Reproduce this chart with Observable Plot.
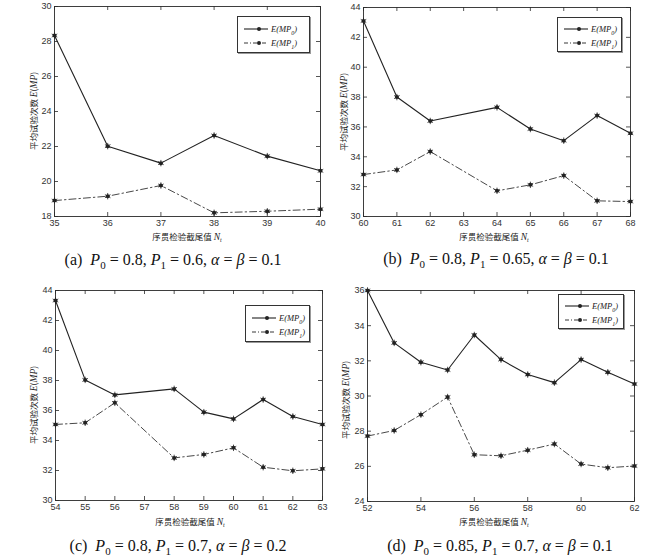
<!DOCTYPE html>
<html>
<head>
<meta charset="utf-8">
<script src="https://cdn.jsdelivr.net/npm/d3@7"></script>
<script src="https://cdn.jsdelivr.net/npm/@observablehq/plot@0.6"></script>
<style>
  html, body { margin: 0; padding: 0; background: #fff; }
  #page { position: relative; width: 660px; height: 557px; overflow: hidden; background: #fff; }
  .panel { position: absolute; }
  .ylab, .xlab { position: absolute; font-family: "Noto Sans CJK SC", sans-serif; font-size: 8.5px; color: #222; white-space: nowrap; line-height: 10px; }
  .ylab { transform: translate(-50%, -50%) rotate(-90deg); }
  .xlab { transform: translate(-50%, -50%); }
  .it { font-family: "Liberation Serif", serif; font-style: italic; font-size: 9.5px; }
  .cap { position: absolute; transform: translate(-50%, -50%); font-family: "Liberation Serif", "DejaVu Serif", serif; font-size: 16px; color: #111; white-space: nowrap; }
  .cap i { font-style: italic; }
  .legend { position: absolute; border: 1px solid #333; background: #fff; box-shadow: 1px 1px 0 #999; }
  .legrow { position: absolute; left: 0; right: 0; height: 14px; }
  .legrow svg { position: absolute; left: 4px; top: 0; }
  .legrow span { position: absolute; left: 33px; top: 0; line-height: 14px; font-family: "Liberation Serif", serif; font-style: italic; font-size: 8.5px; color: #222; }
</style>
</head>
<body>
<div id="page"></div>
<script>
// ---------------- data ----------------
const xA = [35, 36, 37, 38, 39, 40];
const a0 = [28.34, 22.02, 21.05, 22.63, 21.45, 20.61];
const a1 = [18.91, 19.16, 19.77, 18.21, 18.30, 18.42];
const xTicksA = [35, 36, 37, 38, 39, 40];
const yTicksA = [18, 20, 22, 24, 26, 28, 30];

const xB = [60, 61, 62, 64, 65, 66, 67, 68];
const b0 = [43.10, 38.00, 36.40, 37.31, 35.86, 35.08, 36.76, 35.57];
const b1 = [32.81, 33.12, 34.35, 31.72, 32.12, 32.74, 31.05, 31.00];
const xTicksB = [60, 61, 62, 63, 64, 65, 66, 67, 68];
const yTicksB = [30, 32, 34, 36, 38, 40, 42, 44];

const xC = [54, 55, 56, 58, 59, 60, 61, 62, 63];
const c0 = [43.33, 38.04, 37.04, 37.44, 35.89, 35.44, 36.73, 35.60, 35.07];
const c1 = [35.07, 35.18, 36.51, 32.84, 33.07, 33.51, 32.22, 31.98, 32.11];
const xTicksC = [54, 55, 56, 57, 58, 59, 60, 61, 62, 63];
const yTicksC = [30, 32, 34, 36, 38, 40, 42, 44];

const xD = [52, 53, 54, 55, 56, 57, 58, 59, 60, 61, 62];
const d0 = [36.00, 33.02, 31.92, 31.48, 33.47, 32.07, 31.22, 30.76, 32.07, 31.35, 30.68];
const d1 = [27.72, 28.04, 28.94, 29.94, 26.66, 26.60, 26.92, 27.27, 26.13, 25.92, 26.02];
const xTicksD = [52, 54, 56, 58, 60, 62];
const yTicksD = [24, 26, 28, 30, 32, 34, 36];

const seriesSubs = ["0", "1"];
const yLabelText = "平均试验次数 ";
const xLabelText = "序贯检验截尾值 ";

// ---------------- layout ----------------
const panels = [
  { left: 0,   top: 0,   x: xA, s0: a0, s1: a1, xt: xTicksA, yt: yTicksA, m: [6, 10, 29, 54], ylab: [33, 111], xlab: [187, 236],
    leg: [237, 16, 71, 35], cap: [173, 260], capText: ["(a)", "0", "0.8", "1", "0.6", "0.1"] },
  { left: 330, top: 0,   x: xB, s0: b0, s1: b1, xt: xTicksB, yt: yTicksB, m: [7, 30, 29, 33], ylab: [343, 112], xlab: [494, 236],
    leg: [557, 17, 63, 33], cap: [496, 259], capText: ["(b)", "0", "0.8", "1", "0.65", "0.1"] },
  { left: 0,   top: 280, x: xC, s0: c0, s1: c1, xt: xTicksC, yt: yTicksC, m: [10, 8, 25, 55], ylab: [33, 405], xlab: [190, 521],
    leg: [245, 305, 63, 35], cap: [178, 546], capText: ["(c)", "0", "0.8", "1", "0.7", "0.2"] },
  { left: 330, top: 280, x: xD, s0: d0, s1: d1, xt: xTicksD, yt: yTicksD, m: [10, 26, 24, 37], ylab: [345, 400], xlab: [494, 521],
    leg: [558, 294, 64, 33], cap: [500, 546], capText: ["(d)", "0", "0.85", "1", "0.7", "0.1"] }
];

const page = document.getElementById("page");
const H = 245;
const dashDot = "7,3,1.5,3";
const ink = "#2a2a2a";

panels.forEach(p => {
  const rows = [];
  p.x.forEach((xv, i) => {
    rows.push({ x: xv, y: p.s0[i], s: 0 });
    rows.push({ x: xv, y: p.s1[i], s: 1 });
  });
  const r0 = rows.filter(d => d.s === 0);
  const r1 = rows.filter(d => d.s === 1);
  const xd = [p.xt[0], p.xt[p.xt.length - 1]];
  const yd = [p.yt[0], p.yt[p.yt.length - 1]];
  const xr = xd[1] - xd[0], yr = yd[1] - yd[0];
  const [mt, mr, mb, ml] = p.m;
  const innerH = H - mt - mb, innerW = 330 - ml - mr;
  const tx = 4 / innerH * yr;
  const ty = 4 / innerW * xr;

  const chart = Plot.plot({
    width: 330,
    height: H,
    marginTop: mt, marginRight: mr, marginBottom: mb, marginLeft: ml,
    style: { fontFamily: "'Liberation Sans', Arial, sans-serif", fontSize: "9px", color: "#333", background: "transparent" },
    x: { domain: xd, label: null },
    y: { domain: yd, label: null },
    marks: [
      Plot.axisX({ ticks: p.xt, tickSize: 0, tickPadding: 3, tickFormat: d => String(d), fill: "#333", label: null }),
      Plot.axisY({ ticks: p.yt, tickSize: 0, tickPadding: 3, tickFormat: d => String(d), fill: "#333", label: null }),
      Plot.ruleX(p.xt, { x: d => d, y1: yd[0], y2: yd[0] + tx, stroke: ink, strokeWidth: 0.8 }),
      Plot.ruleX(p.xt, { x: d => d, y1: yd[1], y2: yd[1] - tx, stroke: ink, strokeWidth: 0.8 }),
      Plot.ruleY(p.yt, { y: d => d, x1: xd[0], x2: xd[0] + ty, stroke: ink, strokeWidth: 0.8 }),
      Plot.ruleY(p.yt, { y: d => d, x1: xd[1], x2: xd[1] - ty, stroke: ink, strokeWidth: 0.8 }),
      Plot.frame({ stroke: ink, strokeWidth: 0.9 }),
      Plot.line(r1, { x: "x", y: "y", stroke: "#333", strokeWidth: 0.9, strokeDasharray: dashDot }),
      Plot.line(r0, { x: "x", y: "y", stroke: "#222", strokeWidth: 1.1 }),
      Plot.dot(rows, { x: "x", y: "y", r: 2, fill: "#222", stroke: "none" }),
      Plot.dot(rows, { x: "x", y: "y", r: 3, symbol: "asterisk", stroke: "#222", strokeWidth: 0.8 })
    ]
  });
  const wrap = document.createElement("div");
  wrap.className = "panel";
  wrap.style.left = p.left + "px";
  wrap.style.top = p.top + "px";
  wrap.appendChild(chart);
  page.appendChild(wrap);

  const yl = document.createElement("div");
  yl.className = "ylab";
  yl.style.left = p.ylab[0] + "px";
  yl.style.top = p.ylab[1] + "px";
  yl.innerHTML = yLabelText + '<span class="it">E</span>(<span class="it">MP</span>)';
  page.appendChild(yl);

  const xl = document.createElement("div");
  xl.className = "xlab";
  xl.style.left = p.xlab[0] + "px";
  xl.style.top = p.xlab[1] + "px";
  xl.innerHTML = xLabelText + '<span class="it">N</span><sub style="font-size:6px;font-style:italic;font-family:Liberation Serif;line-height:0">t</sub>';
  page.appendChild(xl);

  const lg = document.createElement("div");
  lg.className = "legend";
  lg.style.left = p.leg[0] + "px";
  lg.style.top = p.leg[1] + "px";
  lg.style.width = p.leg[2] + "px";
  lg.style.height = p.leg[3] + "px";
  [0, 1].forEach(s => {
    const row = document.createElement("div");
    row.className = "legrow";
    row.style.top = (s === 0 ? p.leg[3] * 0.13 : p.leg[3] * 0.55) + "px";
    row.innerHTML =
      `<svg width="28" height="14"><line x1="2" x2="26" y1="7" y2="7" stroke="#222" stroke-width="${s ? 0.9 : 1.1}" ${s ? 'stroke-dasharray="4,2,1,2"' : ''}/>` +
      `<circle cx="17" cy="7" r="2" fill="#222"/></svg>` +
      `<span>E(MP<sub style="font-size:6px;line-height:0">${seriesSubs[s]}</sub>)</span>`;
    lg.appendChild(row);
  });
  page.appendChild(lg);

  const cp = document.createElement("div");
  cp.className = "cap";
  cp.style.left = p.cap[0] + "px";
  cp.style.top = p.cap[1] + "px";
  const c = p.capText;
  cp.innerHTML = `${c[0]}&nbsp; <i>P</i><sub style="font-size:11px;line-height:0">${c[1]}</sub> = ${c[2]}, <i>P</i><sub style="font-size:11px;line-height:0">${c[3]}</sub> = ${c[4]}, <i>α</i> = <i>β</i> = ${c[5]}`;
  page.appendChild(cp);
});
</script>
</body>
</html>
